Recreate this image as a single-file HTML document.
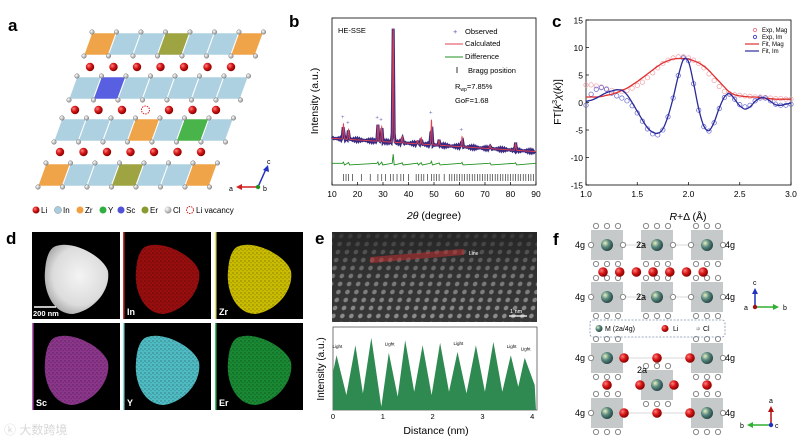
<!DOCTYPE html>
<html><head><meta charset="utf-8"><style>
html,body{margin:0;padding:0;background:#fff}
svg{display:block}
text{font-family:"Liberation Sans","Noto Sans CJK SC",sans-serif}
</style></head><body>
<svg id="fig" width="800" height="442" viewBox="0 0 800 442" xmlns="http://www.w3.org/2000/svg">
<defs>
<radialGradient id="li" cx="35%" cy="35%" r="65%"><stop offset="0" stop-color="#ff8080"/><stop offset="0.5" stop-color="#d81818"/><stop offset="1" stop-color="#8a0000"/></radialGradient>
<radialGradient id="cl" cx="35%" cy="35%" r="65%"><stop offset="0" stop-color="#fff"/><stop offset="1" stop-color="#999"/></radialGradient>
<radialGradient id="mm" cx="35%" cy="35%" r="65%"><stop offset="0" stop-color="#e8f0c0"/><stop offset="0.5" stop-color="#5a8a80"/><stop offset="1" stop-color="#2a4a48"/></radialGradient>
<radialGradient id="haadf" cx="55%" cy="45%" r="60%"><stop offset="0" stop-color="#f4f4f4"/><stop offset="0.7" stop-color="#dcdcdc"/><stop offset="1" stop-color="#a8a8a8"/></radialGradient>
<pattern id="atoms" width="9" height="8" patternUnits="userSpaceOnUse" patternTransform="skewX(-12)"><rect width="9" height="8" fill="#3a3a3a"/><circle cx="4.5" cy="4" r="2.3" fill="#9a9a9a"/></pattern>
<pattern id="speck" width="4" height="4" patternUnits="userSpaceOnUse"><rect width="4" height="4" fill="#000" opacity="0"/><circle cx="1" cy="1" r="0.7" fill="#000" opacity="0.35"/><circle cx="3" cy="2.6" r="0.6" fill="#000" opacity="0.25"/></pattern>
<linearGradient id="hrfade" x1="0" y1="0" x2="0" y2="1"><stop offset="0" stop-color="#222" stop-opacity="0.85"/><stop offset="0.5" stop-color="#222" stop-opacity="0.3"/><stop offset="1" stop-color="#222" stop-opacity="0.1"/></linearGradient>
</defs>

<!-- Panel a -->
<g id="panel-a">
<text x="8" y="31" font-size="17" font-weight="bold">a</text>
<g id="a-struct"></g>
<g>
<line x1="258" y1="187" x2="240" y2="187" stroke="#d02020" stroke-width="1.5"/><polygon points="236,187 242,184 242,190" fill="#d02020"/>
<line x1="258" y1="187" x2="266" y2="169" stroke="#2030c0" stroke-width="1.5"/><polygon points="268,165 263,170 269,172" fill="#2030c0"/>
<circle cx="258" cy="187" r="2.2" fill="#209020"/>
<text x="229" y="191" font-size="7">a</text><text x="263" y="191" font-size="7">b</text><text x="267" y="164" font-size="7">c</text>
</g>
<g font-size="8">
<circle cx="36" cy="210" r="3.5" fill="url(#li)"/><text x="41" y="213">Li</text>
<circle cx="58" cy="210" r="3.5" fill="#a8cde0" stroke="#888" stroke-width="0.5"/><text x="63" y="213">In</text>
<circle cx="80" cy="210" r="3.5" fill="#f0a040"/><text x="85" y="213">Zr</text>
<circle cx="103" cy="210" r="3.5" fill="#30b040"/><text x="108" y="213">Y</text>
<circle cx="121" cy="210" r="3.5" fill="#5050d8"/><text x="126" y="213">Sc</text>
<circle cx="145" cy="210" r="3.5" fill="#8a9a30"/><text x="150" y="213">Er</text>
<circle cx="168" cy="210" r="3.5" fill="url(#cl)"/><text x="173" y="213">Cl</text>
<circle cx="190" cy="210" r="3.5" fill="none" stroke="#d02020" stroke-dasharray="1.5,1"/><text x="196" y="213">Li vacancy</text>
</g>
</g>

<!-- Panel b -->
<g id="panel-b">
<text x="289" y="27" font-size="17" font-weight="bold">b</text>
<rect x="332" y="18" width="204" height="167" fill="none" stroke="#000" stroke-width="0.8"/>
<g id="b-marks"></g>
<g id="b-xaxis"></g>
<text x="434" y="219" font-size="10.5" text-anchor="middle"><tspan font-style="italic">2θ</tspan> (degree)</text>
<text transform="translate(318,101) rotate(-90)" font-size="10.5" text-anchor="middle">Intensity (a.u.)</text>
<text x="338" y="33" font-size="7.5">HE-SSE</text>
<g font-size="7.5">
<text x="453" y="34" fill="#6060c0">+</text><text x="465" y="34">Observed</text>
<line x1="445" y1="44" x2="463" y2="44" stroke="#e04050" stroke-width="1"/><text x="465" y="46">Calculated</text>
<line x1="445" y1="57" x2="463" y2="57" stroke="#209020" stroke-width="1"/><text x="465" y="59">Difference</text>
<line x1="457" y1="67" x2="457" y2="73" stroke="#000" stroke-width="0.8"/><text x="468" y="73">Bragg position</text>
<text x="455" y="89">R<tspan font-size="5" dy="2">wp</tspan><tspan dy="-2">=7.85%</tspan></text>
<text x="455" y="103">GoF=1.68</text>
</g>
</g>

<!-- Panel c -->
<g id="panel-c">
<text x="552" y="27" font-size="17" font-weight="bold">c</text>
<rect x="586" y="20" width="205" height="165" fill="none" stroke="#000" stroke-width="0.8"/>
<g id="c-marks"></g>
<g id="c-axes"></g>
<text x="688" y="220" font-size="10.5" text-anchor="middle"><tspan font-style="italic">R</tspan>+Δ (Å)</text>
<text transform="translate(561,102) rotate(-90)" font-size="10.5" text-anchor="middle">FT[<tspan font-style="italic">k</tspan><tspan font-size="7" dy="-4">3</tspan><tspan dy="4" font-style="italic">χ</tspan>(<tspan font-style="italic">k</tspan>)]</text>
<g font-size="6">
<circle cx="755" cy="30" r="1.6" fill="none" stroke="#e88090"/><text x="762" y="32">Exp, Mag</text>
<circle cx="755" cy="37" r="1.6" fill="none" stroke="#5050c0"/><text x="762" y="39">Exp, Im</text>
<line x1="745" y1="44" x2="759" y2="44" stroke="#e03030" stroke-width="1.2"/><text x="762" y="46">Fit, Mag</text>
<line x1="745" y1="51" x2="759" y2="51" stroke="#2a2a9a" stroke-width="1.2"/><text x="762" y="53">Fit, Im</text>
</g>
</g>

<!-- Panel d -->
<g id="panel-d">
<text x="6" y="244" font-size="17" font-weight="bold">d</text>
<g id="d-maps"></g>
<line x1="34" y1="307" x2="56" y2="307" stroke="#fff" stroke-width="1.5"/>
<text x="33" y="316" font-size="7.5" font-weight="bold" fill="#fff">200 nm</text>
</g>
<text x="4" y="434" font-size="12" fill="#d8d8d8">ⓚ 大数跨境</text>

<!-- Panel e -->
<g id="panel-e">
<text x="315" y="244" font-size="17" font-weight="bold">e</text>
<rect x="332" y="232" width="205" height="90" fill="url(#atoms)"/>
<rect x="332" y="232" width="205" height="90" fill="url(#hrfade)"/>
<rect x="370" y="253" width="94" height="6" fill="#e03030" opacity="0.45" transform="rotate(-5 417 256)"/>
<text x="469" y="255" font-size="5" fill="#fff">Line</text>
<line x1="509" y1="316" x2="527" y2="316" stroke="#fff" stroke-width="1.2"/>
<text x="510" y="313" font-size="5.5" fill="#fff">1 nm</text>
<rect x="333" y="327" width="204" height="83" fill="#fff" stroke="#555" stroke-width="0.8"/>
<g id="e-marks"></g>
<g id="e-xaxis"></g>
<text x="436" y="434" font-size="10.5" text-anchor="middle">Distance (nm)</text>
<text transform="translate(324,369) rotate(-90)" font-size="10" text-anchor="middle">Intensity (a.u.)</text>
</g>

<!-- Panel f -->
<g id="panel-f">
<text x="553" y="245" font-size="17" font-weight="bold">f</text>
<g id="f-struct"></g>
<rect x="590" y="320" width="135" height="17" rx="3" fill="none" stroke="#8090b0" stroke-dasharray="2,1.5" stroke-width="0.8"/>
<g font-size="7">
<circle cx="599" cy="328.5" r="3.5" fill="url(#mm)"/><text x="605" y="331">M (2a/4g)</text>
<circle cx="665" cy="328.5" r="3.5" fill="url(#li)"/><text x="673" y="331">Li</text>
<circle cx="698" cy="328.5" r="1.8" fill="url(#cl)"/><text x="703" y="331">Cl</text>
</g>
<g>
<line x1="755" y1="307" x2="755" y2="292" stroke="#2030c0" stroke-width="1.5"/><polygon points="755,288 752,294 758,294" fill="#2030c0"/>
<line x1="755" y1="307" x2="775" y2="307" stroke="#30b030" stroke-width="1.5"/><polygon points="779,307 773,304 773,310" fill="#30b030"/>
<circle cx="755" cy="307" r="2.2" fill="#a01010"/>
<text x="744" y="310" font-size="7">a</text><text x="783" y="310" font-size="7">b</text><text x="753" y="285" font-size="7">c</text>
</g>
<g>
<line x1="771" y1="425" x2="771" y2="410" stroke="#b01010" stroke-width="1.5"/><polygon points="771,406 768,412 774,412" fill="#b01010"/>
<line x1="771" y1="425" x2="751" y2="425" stroke="#30b030" stroke-width="1.5"/><polygon points="747,425 753,422 753,428" fill="#30b030"/>
<circle cx="771" cy="425" r="2.2" fill="#2030c0"/>
<text x="740" y="428" font-size="7">b</text><text x="775" y="428" font-size="7">c</text><text x="769" y="403" font-size="7">a</text>
</g>
</g>
</svg>
<script>
const NS="http://www.w3.org/2000/svg";
function mk(parent,tag,attrs){const e=document.createElementNS(NS,tag);for(const k in attrs)e.setAttribute(k,attrs[k]);parent.appendChild(e);return e;}

/* ===== Panel b data ===== */
const bXTicks=[10,20,30,40,50,60,70,80,90];
const bBackgroundStart=28, bBackgroundEnd=20;
const bPeakPos=[14.5,16.5,28,29.5,34,37.5,43.5,45,49,52,61,72,82];
const bPeakHeight=[9,6,10,9,68,4,2,4,15,3,6,2,4];
const bBraggPos=[14.5,15.5,16.5,18,21.5,25,28,29.5,31,33,34,35.5,37,38,40,43,44,45,46,47.5,49,50,51,52,54,56,57,58,59,60,61,62,63,64,65,66,67,68,69,70,71,72,73,74,75,76,77,78,79,80,81,82,83,84,85,86,87,88,89];
const bDiffLevel=13;

const bx=v=>332+(v-10)/(90-10)*204;
const by=v=>185-v*1.67;
function bCurve(x){let y=bBackgroundStart+(bBackgroundEnd-bBackgroundStart)*(x-10)/80;
 for(let i=0;i<bPeakPos.length;i++){const d=(x-bPeakPos[i])/0.25;y+=bPeakHeight[i]*Math.exp(-d*d);}return y;}
(function(){
 const g=document.getElementById('b-marks');
 const obs=mk(g,'g',{});
 
 
 let p='';
 for(let x=10;x<=90;x+=0.4){const y=bCurve(x)+(Math.sin(x*7.3)*0.6);p+=(p?'L':'M')+bx(x).toFixed(1)+','+by(y).toFixed(1);}
 mk(obs,'path',{d:p,fill:'none',stroke:'#3a2a80','stroke-width':3});
 for(let i=0;i<bPeakPos.length;i++){if(bPeakHeight[i]<5||bPeakHeight[i]>40)continue;mk(obs,'text',{x:bx(bPeakPos[i])-2.5,y:by(bCurve(bPeakPos[i])+3),'font-size':6,fill:'#7070c0'}).textContent='+';}
 let c='';
 for(let x=10;x<=90;x+=0.05){c+=(c?'L':'M')+bx(x).toFixed(1)+','+by(bCurve(x)).toFixed(1);}
 const calc=mk(g,'path',{d:c,fill:'none',stroke:'#e04050','stroke-width':0.9});
 
 
 let d='M'+bx(10)+','+by(bDiffLevel);
 for(let i=0;i<bPeakPos.length;i++){const px=bx(bPeakPos[i]);d+='L'+(px-1)+','+by(bDiffLevel)+'L'+px+','+by(bDiffLevel+bPeakHeight[i]*0.08)+'L'+(px+1)+','+by(bDiffLevel-1);}
 d+='L'+bx(90)+','+by(bDiffLevel);
 const diff=mk(g,'path',{d:d,fill:'none',stroke:'#209020','stroke-width':0.9});
 
 
 const br=mk(g,'g',{});
 
 
 bBraggPos.forEach(v=>mk(br,'line',{x1:bx(v),x2:bx(v),y1:174,y2:181,stroke:'#333','stroke-width':0.7}));
 const ax=document.getElementById('b-xaxis');
 bXTicks.forEach(v=>{mk(ax,'line',{x1:bx(v),x2:bx(v),y1:185,y2:182,stroke:'#000','stroke-width':0.7});
  const t=mk(ax,'text',{x:bx(v),y:197,'font-size':8.5,'text-anchor':'middle'});t.textContent=v;
  
  });
})();

/* ===== Panel c data ===== */
const cR=[1.0,1.05,1.1,1.15,1.2,1.25,1.3,1.35,1.4,1.45,1.5,1.55,1.6,1.65,1.7,1.75,1.8,1.85,1.9,1.95,2.0,2.05,2.1,2.15,2.2,2.25,2.3,2.35,2.4,2.45,2.5,2.55,2.6,2.65,2.7,2.75,2.8,2.85,2.9,2.95,3.0];
const cFitMag=[1.0,1.0,1.0,1.1,1.3,1.5,1.8,2.2,2.6,3.2,3.8,4.5,5.2,5.9,6.6,7.2,7.6,7.9,8.0,8.0,7.9,7.6,7.2,6.6,5.8,4.8,3.8,2.8,1.9,1.4,1.2,1.1,1.0,1.0,0.9,0.8,0.7,0.6,0.6,0.6,0.6];
const cFitIm=[0.2,0.4,0.8,1.3,1.8,2.1,2.3,2.2,1.4,0.0,-1.6,-3.2,-4.6,-5.4,-5.6,-4.8,-2.5,0.8,4.8,7.8,7.4,3.5,-1.2,-4.3,-5.1,-3.6,-1.0,1.0,1.6,0.6,-0.6,-1.2,-0.8,0.2,0.8,0.8,0.2,-0.4,-0.5,-0.3,-0.1];
const cExpMag=[3.2,3.2,3.0,2.8,2.5,2.2,2.0,2.0,2.2,2.6,3.1,3.7,4.5,5.4,6.3,7.1,7.7,8.1,8.3,8.3,8.1,7.7,7.1,6.3,5.2,4.0,2.9,2.0,1.6,1.4,1.3,1.2,1.1,1.0,1.0,0.9,0.8,0.7,0.7,0.6,0.6];
const cExpIm=[-0.5,1.5,2.4,2.7,2.4,1.7,1.2,0.8,0.3,-0.6,-1.9,-3.4,-4.8,-5.7,-5.9,-5.0,-2.6,0.8,4.9,8.1,7.6,3.4,-1.4,-4.4,-5.2,-3.7,-1.1,0.9,1.5,0.6,-0.4,-0.8,-0.5,0.3,0.8,0.8,0.3,-0.3,-0.5,-0.5,-0.3];
const cXTicks=[1.0,1.5,2.0,2.5,3.0];
const cYTicks=[15,10,5,0,-5,-10,-15];
const cx=v=>586+(v-1)/2*205;
const cy=v=>102.5-v*5.5;
function smoothPath(xs,ys){const P=xs.map((x,i)=>[cx(x),cy(ys[i])]);let d='M'+P[0][0].toFixed(1)+','+P[0][1].toFixed(1);
 for(let i=0;i<P.length-1;i++){const p0=P[Math.max(0,i-1)],p1=P[i],p2=P[i+1],p3=P[Math.min(P.length-1,i+2)];
 d+='C'+(p1[0]+(p2[0]-p0[0])/6).toFixed(1)+','+(p1[1]+(p2[1]-p0[1])/6).toFixed(1)+' '+(p2[0]-(p3[0]-p1[0])/6).toFixed(1)+','+(p2[1]-(p3[1]-p1[1])/6).toFixed(1)+' '+p2[0].toFixed(1)+','+p2[1].toFixed(1);}
 return d;}
(function(){
 const g=document.getElementById('c-marks');
 const em=mk(g,'g',{});
 
 
 cR.forEach((r,i)=>mk(em,'circle',{cx:cx(r),cy:cy(cExpMag[i]),r:2.2,fill:'none',stroke:'#eea0a8','stroke-width':0.7}));
 const ei=mk(g,'g',{});
 
 
 cR.forEach((r,i)=>mk(ei,'circle',{cx:cx(r),cy:cy(cExpIm[i]),r:2.2,fill:'none',stroke:'#6060d0','stroke-width':0.7}));
 const fm=mk(g,'path',{d:smoothPath(cR,cFitMag),fill:'none',stroke:'#e03030','stroke-width':1.3});
 
 
 const fi=mk(g,'path',{d:smoothPath(cR,cFitIm),fill:'none',stroke:'#2a2a9a','stroke-width':1.3});
 
 
 const ax=document.getElementById('c-axes');
 cXTicks.forEach(v=>{mk(ax,'line',{x1:cx(v),x2:cx(v),y1:185,y2:182,stroke:'#000','stroke-width':0.7});
  const t=mk(ax,'text',{x:cx(v),y:197,'font-size':8.5,'text-anchor':'middle'});t.textContent=v.toFixed(1);
  
  });
 cYTicks.forEach(v=>{mk(ax,'line',{x1:586,x2:589,y1:cy(v),y2:cy(v),stroke:'#000','stroke-width':0.7});
  const t=mk(ax,'text',{x:583,y:cy(v)+3.5,'font-size':8.5,'text-anchor':'end'});t.textContent=v;
  
  });
})();

/* ===== Panel e data ===== */
const ePeakPos=[0.07,0.45,0.77,1.12,1.45,1.8,2.15,2.5,2.87,3.22,3.57,3.85];
const ePeakVal=[66,78,87,69,84,78,81,70,78,82,66,63];
const eValleyPos=[0.0,0.27,0.6,0.97,1.3,1.63,1.98,2.33,2.68,3.05,3.4,3.72,4.05];
const eValleyVal=[45,18,20,4,16,22,18,22,20,22,22,28,30];
const eXTicks=[0,1,2,3,4];
const eLightPos=[0.07,1.12,2.5,3.57,3.85];
const ex=v=>333+v*49.8;
const ey=v=>410-v*0.83;
(function(){
 const g=document.getElementById('e-marks');
 const pts=[];
 eValleyPos.forEach((v,i)=>pts.push([v,eValleyVal[i]]));
 ePeakPos.forEach((v,i)=>pts.push([v,ePeakVal[i]]));
 pts.sort((a,b)=>a[0]-b[0]);
 let d='M'+ex(0)+','+ey(0);
 pts.forEach(p=>{const X=Math.min(ex(p[0]),536);d+='L'+X.toFixed(1)+','+ey(p[1]).toFixed(1);});
 d+='L536,'+ey(0)+'Z';
 const a=mk(g,'path',{d:d,fill:'#2e8a50'});
 
 
 eLightPos.forEach((v,i)=>{const t=mk(g,'text',{x:ex(v)-4,y:ey(ePeakVal[ePeakPos.indexOf(v)])-7,'font-size':4.5});t.textContent='Light';
  
  });
 const ax=document.getElementById('e-xaxis');
 eXTicks.forEach(v=>{const t=mk(ax,'text',{x:ex(v),y:419,'font-size':7.5,'text-anchor':'middle'});t.textContent=v;
  
  });
})();

/* ===== Panel a structure ===== */
(function(){
 const g=document.getElementById('a-struct');
 const C={b:'#a9cfe0',o:'#f0a040',e:'#9aa038',s:'#5058e0',y:'#40b040'};
 const rows=[{x:88,y:44,t:'obbebbo'},{x:73,y:88,t:'bsbbbbb'},{x:58,y:130,t:'bbbobyb'},{x:42,y:175,t:'obbebbo'}];
 const liRows=[{x:90,y:67},{x:75,y:110},{x:60,y:152}];
 rows.forEach(r=>{for(let i=0;i<7;i++){const x0=r.x+i*24.5,y0=r.y;
  const poly=mk(g,'polygon',{points:`${x0+4},${y0-11} ${x0+28},${y0-11} ${x0+20},${y0+11} ${x0-4},${y0+11}`,fill:C[r.t[i]],stroke:'#fff','stroke-width':0.6,opacity:0.95});
  
  
  [[x0+4,y0-12],[x0-4,y0+12]].forEach(p=>mk(g,'circle',{cx:p[0],cy:p[1],r:2.3,fill:'url(#cl)',stroke:'#666','stroke-width':0.4}));}
  mk(g,'circle',{cx:r.x+7*24.5+4,cy:r.y-12,r:2.3,fill:'url(#cl)',stroke:'#666','stroke-width':0.4});
  mk(g,'circle',{cx:r.x+7*24.5-4,cy:r.y+12,r:2.3,fill:'url(#cl)',stroke:'#666','stroke-width':0.4});});
 liRows.forEach((r,ri)=>{for(let i=0;i<7;i++){const X=r.x+i*23.5;
  if(ri===1&&i===3){const v=mk(g,'circle',{cx:X,cy:r.y,r:4,fill:'none',stroke:'#d02020','stroke-dasharray':'1.5,1'});continue;}
  const c=mk(g,'circle',{cx:X,cy:r.y,r:4.2,fill:'url(#li)'});
  
  }});
})();

/* ===== Panel d maps ===== */
(function(){
 const g=document.getElementById('d-maps');
 const maps=[{x:32,y:232,c:'url(#haadf)',l:''},{x:123,y:232,c:'#a81010',l:'In',bar:'#d03030'},{x:215,y:232,c:'#e0d000',l:'Zr',bar:'#e8e060'},
  {x:32,y:323,c:'#9a3c9a',l:'Sc',bar:'#c060c0'},{x:123,y:323,c:'#58d0d8',l:'Y',bar:'#80e0e0'},{x:215,y:323,c:'#1c9838',l:'Er',bar:'#40c060'}];
 maps.forEach((m,i)=>{const grp=mk(g,'g',{});
  
  
  mk(grp,'rect',{x:m.x,y:m.y,width:88,height:87,fill:'#000'});
  if(m.bar)mk(grp,'rect',{x:m.x,y:m.y,width:1.5,height:87,fill:m.bar});
  const cxp=m.x+46,cyp=m.y+44;
  const shape=`M${cxp-22},${cyp-30} C${cxp-5},${cyp-36} ${cxp+25},${cyp-20} ${cxp+30},${cyp-5} C${cxp+33},${cyp+15} ${cxp+15},${cyp+35} ${cxp-5},${cyp+38} C${cxp-25},${cyp+38} ${cxp-35},${cyp+15} ${cxp-33},${cyp-5} C${cxp-32},${cyp-20} ${cxp-28},${cyp-28} ${cxp-22},${cyp-30}Z`;
  mk(grp,'path',{d:shape,fill:m.c,opacity:i===0?1:0.9});
  if(i>0)mk(grp,'path',{d:shape,fill:'url(#speck)'});
  if(m.l){const t=mk(grp,'text',{x:m.x+4,y:m.y+83,'font-size':9,'font-weight':'bold',fill:'#fff'});t.textContent=m.l;}});
})();

/* ===== Panel f structure ===== */
(function(){
 const g=document.getElementById('f-struct');
 function octa(x,y){const o=mk(g,'g',{});
  
  
  mk(o,'rect',{x:x-16,y:y-15,width:32,height:30,fill:'#b8bcbc',opacity:0.8});
  [[-11,-19],[0,-19],[11,-19],[-11,19],[0,19],[11,19],[-16,0],[16,0]].forEach(p=>mk(o,'circle',{cx:x+p[0],cy:y+p[1],r:2.6,fill:'#fff',stroke:'#888','stroke-width':1}));
  mk(o,'circle',{cx:x,cy:y,r:6,fill:'url(#mm)'});}
 function li(x,y){const c=mk(g,'circle',{cx:x,cy:y,r:4.8,fill:'url(#li)'});}
 function lab(x,y,s){const t=mk(g,'text',{x:x,y:y,'font-size':9});t.textContent=s;}
 [245,297].forEach(y=>{mk(g,'line',{x1:607,x2:707,y1:y,y2:y,stroke:'#ccc','stroke-width':0.8});octa(607,y);octa(657,y);octa(707,y);lab(575,y+3,'4g');lab(636,y+3,'2a');lab(725,y+3,'4g');});
 for(let i=0;i<7;i++)li(603+i*16.7,272);
 [358,413].forEach(y=>{mk(g,'line',{x1:607,x2:707,y1:y,y2:y,stroke:'#ccc','stroke-width':0.8});octa(607,y);octa(707,y);li(624,y);li(657,y);li(690,y);lab(575,y+3,'4g');lab(725,y+3,'4g');});
 octa(657,385);li(640,385);li(674,385);li(607,385);li(707,385);lab(637,373,'2a');
})();
</script>
</body></html>
